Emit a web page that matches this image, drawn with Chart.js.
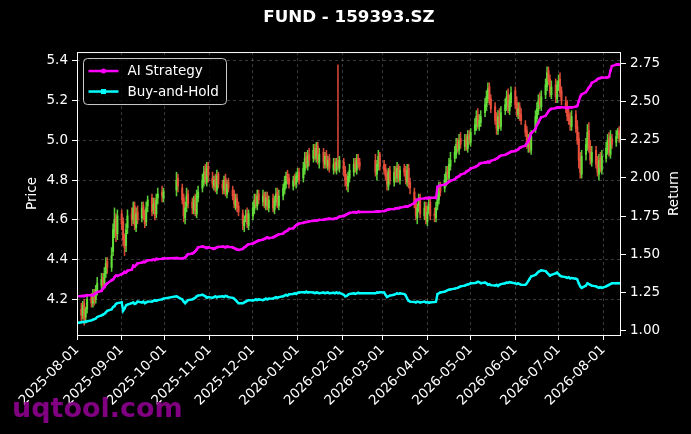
<!DOCTYPE html>
<html><head><meta charset="utf-8">
<script src="https://cdn.jsdelivr.net/npm/chart.js@4.4.1/dist/chart.umd.min.js"></script>
<style>html,body{margin:0;padding:0;background:#000;}canvas{display:block;}</style>
</head><body>
<canvas id="c" width="691" height="434"></canvas>
<script>
const titleText = 'FUND - 159393.SZ';
const priceLabel = 'Price';
const returnLabel = 'Return';
const watermarkText = 'uqtool.com';
const seriesNames = ['AI Strategy', 'Buy-and-Hold'];
const startDate = '2025-08-01';   // x origin
const firstMonday = '2025-07-28'; // week rows start on this Monday
const endDay = 377.3;
const monthTicks = ['2025-08-01','2025-09-01','2025-10-01','2025-11-01','2025-12-01','2026-01-01','2026-02-01','2026-03-01','2026-04-01','2026-05-01','2026-06-01','2026-07-01','2026-08-01'];
const priceTicks = [4.2, 4.4, 4.6, 4.8, 5.0, 5.2, 5.4];
const returnTicks = [1.0, 1.25, 1.5, 1.75, 2.0, 2.25, 2.5, 2.75];
const _ = null;
// one row per week (Mon..Fri), null = no trading
const opens = [
[_,_,_,_,4.18],[4.15,4.12,4.18,4.11,4.15],[4.21,4.18,4.23,4.20,4.24],[4.27,4.31,4.28,4.33,4.39],[4.36,4.44,4.54,4.61,4.53],
[4.63,4.59,4.51,4.47,4.56],[4.63,4.60,4.67,4.56,4.64],[4.61,4.67,4.63,4.59,4.67],[4.71,4.65,4.69,4.63,4.71],[4.74,4.71,_,_,_],
[_,_,_,4.75,4.81],[4.76,4.71,4.61,4.67,4.73],[4.69,4.65,4.71,4.63,4.71],[4.76,4.79,4.85,4.79,4.87],[4.81,4.77,4.81,4.75,4.83],
[4.78,4.75,4.81,4.73,4.79],[4.75,4.73,4.67,4.71,4.67],[4.63,4.57,4.61,4.63,4.57],[4.62,4.65,4.71,4.67,4.73],[4.69,4.73,4.67,4.72,4.66],
[4.71,4.65,4.69,4.74,4.67],[4.72,4.75,4.78,4.83,4.81],[4.77,4.81,4.78,4.81,4.84],[4.81,4.85,4.92,4.87,4.93],[4.91,4.96,4.91,4.97,4.89],
[4.94,4.88,4.93,4.87,4.91],[4.85,4.89,4.85,4.90,4.86],[4.89,4.85,4.81,4.77,4.81],[4.84,4.89,4.85,4.91,4.89],[_,_,_,_,_],
[_,4.90,4.83,4.87,4.93],[4.88,4.86,4.83,4.77,4.85],[4.79,4.85,4.81,4.87,4.80],[4.86,4.85,4.79,4.86,4.79],[4.74,4.69,4.61,4.67,4.71],
[4.62,4.67,4.59,4.65,4.69],[4.63,4.61,4.67,4.70,4.77],[4.76,4.79,4.85,4.81,4.87],[4.91,4.93,4.99,4.95,5.01],[4.97,5.01,4.96,5.03,4.99],
[5.05,5.07,5.13,5.07,5.09],[5.14,5.17,5.21,5.27,5.21],[5.17,5.11,5.05,5.13,5.07],[5.15,5.17,5.23,5.15,5.19],[5.25,5.19,5.13,5.17,5.13],
[5.08,5.05,4.97,5.01,4.95],[5.06,5.11,5.15,5.21,5.17],[5.23,5.27,5.35,5.31,5.23],[5.28,5.21,5.27,5.31,5.25],[5.19,5.17,5.13,5.11,5.07],
[5.13,5.07,5.01,4.91,4.83],[4.93,4.97,5.05,4.97,4.89],[4.95,4.89,4.83,4.91,4.85],[4.91,4.95,5.01,4.93,5.01],[4.99,5.03,5.05,5.00,_]
];
const highs = [
[_,_,_,_,4.21],[4.18,4.19,4.20,4.16,4.22],[4.23,4.25,4.25,4.27,4.31],[4.33,4.33,4.36,4.41,4.41],[4.46,4.58,4.66,4.63,4.65],
[4.65,4.61,4.53,4.58,4.65],[4.66,4.69,4.69,4.66,4.67],[4.69,4.69,4.65,4.69,4.72],[4.73,4.71,4.71,4.73,4.76],[4.77,4.76,_,_,_],
[_,_,_,4.84,4.83],[4.78,4.73,4.69,4.76,4.75],[4.71,4.72,4.73,4.75,4.77],[4.83,4.87,4.88,4.89,4.89],[4.84,4.82,4.83,4.85,4.84],
[4.80,4.82,4.83,4.80,4.81],[4.77,4.75,4.73,4.73,4.69],[4.65,4.62,4.65,4.66,4.65],[4.69,4.73,4.73,4.75,4.75],[4.75,4.74,4.74,4.74,4.72],
[4.73,4.72,4.76,4.76,4.75],[4.78,4.82,4.84,4.85,4.83],[4.82,4.83,4.84,4.86,4.86],[4.89,4.94,4.94,4.95,4.96],[4.98,4.98,4.99,4.99,4.96],
[4.96,4.94,4.95,4.92,4.93],[4.91,4.91,4.91,5.38,4.92],[4.91,4.87,4.83,4.84,4.88],[4.91,4.91,4.93,4.93,4.91],[_,_,_,_,_],
[_,4.93,4.90,4.95,4.94],[4.90,4.88,4.85,4.86,4.87],[4.87,4.87,4.89,4.88,4.87],[4.88,4.87,4.88,4.88,4.81],[4.76,4.71,4.68,4.73,4.73],
[4.69,4.69,4.67,4.71,4.71],[4.66,4.69,4.75,4.79,4.79],[4.83,4.87,4.87,4.91,4.94],[4.97,5.01,5.01,5.03,5.04],[5.03,5.03,5.05,5.05,5.06],
[5.11,5.15,5.16,5.13,5.15],[5.21,5.25,5.29,5.29,5.23],[5.19,5.14,5.15,5.16,5.17],[5.21,5.25,5.26,5.23,5.27],[5.27,5.22,5.19,5.19,5.16],
[5.10,5.07,5.03,5.04,5.05],[5.15,5.19,5.23,5.24,5.25],[5.31,5.37,5.37,5.33,5.30],[5.31,5.30,5.33,5.34,5.27],[5.22,5.20,5.16,5.14,5.15],
[5.15,5.10,5.04,4.94,4.95],[5.01,5.08,5.09,5.00,4.97],[4.97,4.92,4.93,4.94,4.95],[4.99,5.03,5.04,5.05,5.03],[5.05,5.06,5.07,5.05,_]
];
const lows = [
[_,_,_,_,4.11],[4.09,4.10,4.07,4.08,4.13],[4.16,4.16,4.17,4.18,4.22],[4.25,4.25,4.26,4.31,4.33],[4.34,4.42,4.51,4.49,4.50],
[4.55,4.47,4.42,4.44,4.53],[4.57,4.58,4.55,4.54,4.58],[4.59,4.60,4.56,4.57,4.64],[4.62,4.63,4.60,4.61,4.68],[4.69,4.69,_,_,_],
[_,_,_,4.72,4.74],[4.68,4.59,4.58,4.64,4.66],[4.63,4.63,4.62,4.61,4.69],[4.74,4.77,4.78,4.77,4.79],[4.76,4.75,4.74,4.73,4.76],
[4.73,4.73,4.72,4.71,4.74],[4.70,4.66,4.65,4.64,4.62],[4.55,4.54,4.59,4.56,4.55],[4.60,4.63,4.66,4.65,4.68],[4.67,4.66,4.65,4.65,4.64],
[4.64,4.63,4.67,4.66,4.65],[4.70,4.73,4.76,4.78,4.76],[4.75,4.77,4.76,4.79,4.78],[4.79,4.83,4.86,4.85,4.87],[4.89,4.90,4.89,4.88,4.86],
[4.86,4.86,4.86,4.85,4.84],[4.83,4.84,4.83,4.85,4.84],[4.82,4.77,4.75,4.74,4.79],[4.82,4.84,4.83,4.86,4.85],[_,_,_,_,_],
[_,4.82,4.80,4.85,4.85],[4.83,4.80,4.75,4.75,4.78],[4.77,4.79,4.79,4.79,4.78],[4.82,4.78,4.77,4.76,4.73],[4.66,4.60,4.58,4.64,4.61],
[4.60,4.58,4.57,4.63,4.60],[4.59,4.59,4.65,4.68,4.72],[4.74,4.77,4.80,4.79,4.85],[4.89,4.91,4.94,4.93,4.96],[4.95,4.95,4.94,4.98,4.97],
[5.03,5.05,5.06,5.05,5.07],[5.12,5.15,5.19,5.18,5.14],[5.08,5.03,5.03,5.06,5.05],[5.13,5.15,5.14,5.13,5.17],[5.16,5.12,5.11,5.10,5.08],
[5.02,4.96,4.94,4.94,4.93],[5.04,5.09,5.13,5.16,5.15],[5.21,5.25,5.28,5.22,5.21],[5.19,5.19,5.25,5.22,5.18],[5.14,5.10,5.08,5.05,5.05],
[5.04,4.98,4.86,4.81,4.81],[4.90,4.95,4.94,4.88,4.87],[4.86,4.82,4.80,4.84,4.83],[4.89,4.93,4.92,4.91,4.96],[4.97,5.01,4.99,4.98,_]
];
const closes = [
[_,_,_,_,4.14],[4.12,4.17,4.10,4.15,4.20],[4.18,4.22,4.19,4.25,4.28],[4.30,4.27,4.33,4.38,4.36],[4.42,4.55,4.60,4.52,4.62],
[4.58,4.50,4.46,4.55,4.62],[4.60,4.66,4.57,4.63,4.60],[4.66,4.62,4.58,4.66,4.70],[4.64,4.68,4.62,4.70,4.73],[4.72,4.74,_,_,_],
[_,_,_,4.80,4.77],[4.70,4.62,4.66,4.72,4.68],[4.66,4.70,4.64,4.72,4.74],[4.80,4.84,4.80,4.86,4.82],[4.78,4.80,4.76,4.82,4.78],
[4.76,4.80,4.74,4.78,4.76],[4.72,4.68,4.70,4.66,4.64],[4.58,4.60,4.62,4.58,4.63],[4.66,4.70,4.68,4.72,4.70],[4.72,4.68,4.71,4.67,4.70],
[4.66,4.70,4.73,4.68,4.72],[4.76,4.79,4.82,4.80,4.78],[4.80,4.79,4.82,4.83,4.80],[4.86,4.91,4.88,4.92,4.90],[4.95,4.92,4.96,4.90,4.93],
[4.89,4.92,4.88,4.90,4.86],[4.88,4.86,4.89,4.87,4.90],[4.84,4.80,4.78,4.82,4.85],[4.88,4.86,4.90,4.88,4.87],[_,_,_,_,_],
[_,4.84,4.88,4.92,4.87],[4.85,4.82,4.78,4.84,4.80],[4.84,4.82,4.86,4.81,4.85],[4.84,4.80,4.85,4.78,4.76],[4.68,4.62,4.66,4.70,4.63],
[4.66,4.60,4.64,4.68,4.62],[4.62,4.66,4.72,4.76,4.74],[4.80,4.84,4.82,4.88,4.90],[4.94,4.98,4.96,5.00,4.98],[5.00,4.97,5.02,5.00,5.04],
[5.08,5.12,5.08,5.10,5.12],[5.18,5.22,5.26,5.20,5.16],[5.10,5.06,5.12,5.08,5.14],[5.18,5.22,5.16,5.20,5.24],[5.18,5.14,5.16,5.12,5.10],
[5.04,4.98,5.00,4.96,5.02],[5.12,5.16,5.20,5.18,5.22],[5.28,5.34,5.30,5.24,5.27],[5.22,5.28,5.30,5.24,5.20],[5.16,5.12,5.10,5.08,5.12],
[5.06,5.00,4.90,4.84,4.92],[4.98,5.04,4.96,4.90,4.94],[4.88,4.84,4.90,4.86,4.92],[4.96,5.00,4.94,5.02,4.98],[5.02,5.04,5.01,5.03,_]
];
const aiReturn = [
[_,_,_,_,1.225],[1.226,1.228,1.226,1.229,1.232],[1.233,1.232,1.238,1.245,1.252],[1.26,1.275,1.285,1.30,1.31],[1.33,1.335,1.35,1.36,1.358],
[1.37,1.375,1.385,1.38,1.392],[1.40,1.425,1.42,1.43,1.44],[1.445,1.45,1.448,1.455,1.46],[1.462,1.465,1.462,1.47,1.468],[1.47,1.472,_,_,_],
[_,_,_,1.475,1.474],[1.472,1.475,1.478,1.49,1.50],[1.505,1.51,1.52,1.53,1.545],[1.55,1.548,1.545,1.54,1.545],[1.538,1.535,1.54,1.545,1.548],
[1.55,1.548,1.545,1.55,1.548],[1.545,1.54,1.535,1.53,1.528],[1.535,1.545,1.55,1.56,1.565],[1.57,1.575,1.58,1.585,1.59],[1.595,1.60,1.605,1.61,1.605],
[1.61,1.615,1.62,1.625,1.63],[1.635,1.645,1.65,1.655,1.665],[1.67,1.68,1.69,1.695,1.70],[1.705,1.71,1.71,1.712,1.715],[1.718,1.72,1.72,1.722,1.725],
[1.725,1.728,1.73,1.73,1.732],[1.73,1.735,1.735,1.74,1.745],[1.75,1.755,1.76,1.765,1.77],[1.775,1.775,1.772,1.778,1.776],[_,_,_,_,_],
[_,1.778,1.78,1.778,1.78],[1.782,1.785,1.79,1.792,1.795],[1.795,1.80,1.802,1.80,1.805],[1.81,1.812,1.81,1.815,1.82],[1.835,1.85,1.855,1.86,1.862],
[1.865,1.868,1.865,1.87,1.868],[1.87,1.868,1.94,1.945,1.95],[1.955,1.96,1.965,1.975,1.98],[1.99,2.0,2.005,2.01,2.02],[2.03,2.04,2.045,2.05,2.06],
[2.07,2.075,2.08,2.09,2.095],[2.10,2.10,2.105,2.10,2.11],[2.12,2.125,2.13,2.14,2.145],[2.15,2.155,2.16,2.165,2.17],[2.175,2.18,2.185,2.195,2.20],
[2.21,2.225,2.24,2.26,2.29],[2.32,2.345,2.36,2.38,2.395],[2.405,2.42,2.435,2.445,2.45],[2.455,2.46,2.458,2.46,2.462],[2.458,2.455,2.46,2.462,2.46],
[2.465,2.47,2.50,2.53,2.545],[2.56,2.575,2.59,2.60,2.62],[2.635,2.645,2.65,2.652,2.655],[2.655,2.656,2.66,2.70,2.73],[2.74,2.742,2.74,2.742,_]
];
const bhReturn = [
[_,_,_,_,1.05],[1.055,1.058,1.056,1.06,1.062],[1.068,1.072,1.075,1.08,1.09],[1.10,1.105,1.11,1.12,1.13],[1.14,1.155,1.16,1.175,1.18],
[1.185,1.13,1.145,1.165,1.17],[1.18,1.185,1.175,1.18,1.19],[1.185,1.19,1.18,1.185,1.19],[1.19,1.195,1.20,1.195,1.20],[1.205,1.21,_,_,_],
[_,_,_,1.225,1.22],[1.205,1.19,1.18,1.19,1.20],[1.205,1.21,1.215,1.225,1.23],[1.235,1.23,1.225,1.215,1.22],[1.215,1.22,1.225,1.218,1.222],
[1.225,1.22,1.228,1.225,1.22],[1.215,1.21,1.20,1.19,1.18],[1.18,1.185,1.19,1.195,1.20],[1.198,1.20,1.205,1.20,1.205],[1.20,1.205,1.21,1.205,1.21],
[1.21,1.215,1.22,1.215,1.22],[1.225,1.23,1.235,1.23,1.238],[1.24,1.245,1.24,1.248,1.25],[1.252,1.25,1.255,1.25,1.252],[1.25,1.245,1.25,1.248,1.245],
[1.25,1.245,1.248,1.25,1.245],[1.248,1.245,1.25,1.245,1.248],[1.235,1.225,1.228,1.235,1.24],[1.245,1.24,1.245,1.248,1.245],[_,_,_,_,_],
[_,1.245,1.25,1.248,1.252],[1.25,1.235,1.22,1.225,1.23],[1.235,1.24,1.245,1.24,1.245],[1.24,1.23,1.21,1.195,1.19],[1.188,1.185,1.19,1.188,1.185],
[1.19,1.185,1.188,1.182,1.185],[1.188,1.19,1.24,1.245,1.25],[1.255,1.26,1.265,1.268,1.27],[1.275,1.278,1.28,1.285,1.29],[1.295,1.30,1.302,1.305,1.31],
[1.312,1.315,1.32,1.318,1.31],[1.315,1.31,1.30,1.305,1.298],[1.295,1.30,1.292,1.30,1.305],[1.31,1.315,1.312,1.318,1.315],[1.31,1.305,1.31,1.305,1.30],
[1.30,1.31,1.325,1.34,1.355],[1.365,1.375,1.385,1.39,1.395],[1.39,1.38,1.37,1.36,1.365],[1.375,1.38,1.37,1.36,1.355],[1.35,1.345,1.35,1.342,1.345],
[1.34,1.335,1.31,1.29,1.28],[1.295,1.31,1.305,1.30,1.295],[1.29,1.285,1.28,1.285,1.28],[1.29,1.295,1.30,1.305,1.31],[1.31,1.312,1.31,1.312,_]
];

const upColor = 'rgba(100,225,60,0.9)';
const downColor = 'rgba(235,80,60,0.9)';
const aiColor = '#ff00ff';
const bhColor = '#00ffff';
const FONT = 'DejaVu Sans';

const toUTC = s => { const [y,m,d] = s.split('-').map(Number); return Date.UTC(y, m-1, d); };
const dayOf = s => (toUTC(s) - toUTC(startDate)) / 864e5;
const mondayOffset = dayOf(firstMonday);

const wick = [], body = [], colors = [], aiPts = [], bhPts = [];
opens.forEach((row, k) => row.forEach((o, d) => {
  if (o === null) return;
  const x = mondayOffset + 7*k + d;
  const c = closes[k][d];
  wick.push({x, y: [lows[k][d], highs[k][d]]});
  body.push({x, y: [o, c]});
  colors.push(c >= o ? upColor : downColor);
  aiPts.push({x, y: aiReturn[k][d]});
  bhPts.push({x, y: bhReturn[k][d]});
}));
const tickDays = monthTicks.map(dayOf);

const tickFont = {family: FONT, size: 13.5};

const framePlugin = {
  id: 'frame',
  afterDatasetsDraw(chart) {
    const {ctx, chartArea: a} = chart;
    ctx.save();
    ctx.strokeStyle = '#ffffff'; ctx.lineWidth = 1;
    ctx.strokeRect(a.left + 0.5, a.top + 0.5, a.right - a.left - 1, a.bottom - a.top);
    ctx.restore();
  },
  afterDraw(chart) {
    const {ctx, chartArea: a} = chart;
    ctx.save();
    ctx.fillStyle = '#ffffff';
    ctx.font = `13.5px "${FONT}"`;
    ctx.textAlign = 'center'; ctx.textBaseline = 'middle';
    const cy = (a.top + a.bottom) / 2;
    ctx.save(); ctx.translate(32, cy); ctx.rotate(-Math.PI/2); ctx.fillText(priceLabel, 0, 0); ctx.restore();
    ctx.save(); ctx.translate(674, cy); ctx.rotate(-Math.PI/2); ctx.fillText(returnLabel, 0, 0); ctx.restore();
    // legend
    const lx = a.left + 6.5, ly = a.top + 6.5, lw = 143, lh = 46;
    ctx.beginPath();
    ctx.roundRect(lx, ly, lw, lh, 4);
    ctx.fillStyle = 'rgba(0,0,0,0.8)'; ctx.fill();
    ctx.strokeStyle = '#cccccc'; ctx.lineWidth = 1; ctx.stroke();
    const rows = [{c: aiColor, shape: 'circle'}, {c: bhColor, shape: 'rect'}];
    rows.forEach((r, i) => {
      const y = ly + 12.5 + i * 20.5;
      ctx.strokeStyle = r.c; ctx.fillStyle = r.c; ctx.lineWidth = 2.5;
      ctx.beginPath(); ctx.moveTo(lx + 5, y); ctx.lineTo(lx + 35, y); ctx.stroke();
      ctx.beginPath();
      if (r.shape === 'circle') ctx.arc(lx + 20, y, 2.5, 0, Math.PI*2); else ctx.rect(lx + 17.5, y - 2.5, 5, 5);
      ctx.fill();
      ctx.fillStyle = '#ffffff'; ctx.font = `13.5px "${FONT}"`; ctx.textAlign = 'left'; ctx.textBaseline = 'middle';
      ctx.fillText(seriesNames[i], lx + 44, y + 0.5);
    });
    // watermark
    ctx.font = `bold 27px "${FONT}"`;
    ctx.fillStyle = 'rgba(140,0,140,0.92)';
    ctx.textAlign = 'left'; ctx.textBaseline = 'alphabetic';
    ctx.fillText(watermarkText, 12, 417);
    ctx.restore();
  }
};

new Chart(document.getElementById('c'), {
  type: 'bar',
  data: {
    datasets: [
      {type: 'line', label: seriesNames[0], data: aiPts, yAxisID: 'y2', borderColor: aiColor, backgroundColor: aiColor,
       borderWidth: 2.4, pointRadius: 1.4, pointStyle: 'circle', pointBorderWidth: 0, pointBackgroundColor: aiColor, order: 0},
      {type: 'line', label: seriesNames[1], data: bhPts, yAxisID: 'y2', borderColor: bhColor, backgroundColor: bhColor,
       borderWidth: 2.4, pointRadius: 1.4, pointStyle: 'rect', pointBorderWidth: 0, pointBackgroundColor: bhColor, order: 1},
      {type: 'bar', label: 'body', data: body, yAxisID: 'y', backgroundColor: colors, barThickness: 1.4, grouped: false, order: 2},
      {type: 'bar', label: 'wick', data: wick, yAxisID: 'y', backgroundColor: colors, barThickness: 0.9, grouped: false, order: 3}
    ]
  },
  options: {
    responsive: false,
    animation: false,
    devicePixelRatio: 1,
    layout: {padding: 0},
    plugins: {
      legend: {display: false},
      tooltip: {enabled: false},
      title: {display: true, text: titleText, color: '#ffffff', fullSize: false,
              font: {family: FONT, size: 16.7, weight: 'bold'}, padding: {top: 8, bottom: 24}}
    },
    scales: {
      x: {
        type: 'linear', min: 0, max: endDay, offset: false,
        afterBuildTicks: s => { s.ticks = tickDays.map(v => ({value: v})); },
        afterFit: s => { s.height = 99; },
        ticks: {color: '#ffffff', font: tickFont, autoSkip: false, minRotation: 45, maxRotation: 45, padding: 2,
                callback: (v) => { const i = tickDays.indexOf(v); return i >= 0 ? monthTicks[i] : ''; }},
        grid: {offset: false, color: 'rgba(255,255,255,0.28)', lineWidth: 0.8, tickColor: '#ffffff', tickLength: 5, tickWidth: 1},
        border: {display: false, dash: [3, 3]}
      },
      y: {
        position: 'left', min: 4.02, max: 5.445,
        afterBuildTicks: s => { s.ticks = priceTicks.map(v => ({value: v})); },
        afterFit: s => { s.width = 77; },
        ticks: {color: '#ffffff', font: tickFont, padding: 4, callback: v => Number(v).toFixed(1)},
        grid: {color: 'rgba(255,255,255,0.28)', lineWidth: 0.8, tickColor: '#ffffff', tickLength: 5, tickWidth: 1},
        border: {display: false, dash: [3, 3]}
      },
      y2: {
        position: 'right', min: 0.972, max: 2.822,
        afterBuildTicks: s => { s.ticks = returnTicks.map(v => ({value: v})); },
        afterFit: s => { s.width = 70; },
        ticks: {color: '#ffffff', font: tickFont, padding: 4, callback: v => Number(v).toFixed(2)},
        grid: {drawOnChartArea: false, tickColor: '#ffffff', tickLength: 5, tickWidth: 1},
        border: {display: false}
      }
    }
  },
  plugins: [framePlugin]
});
</script>
</body></html>
